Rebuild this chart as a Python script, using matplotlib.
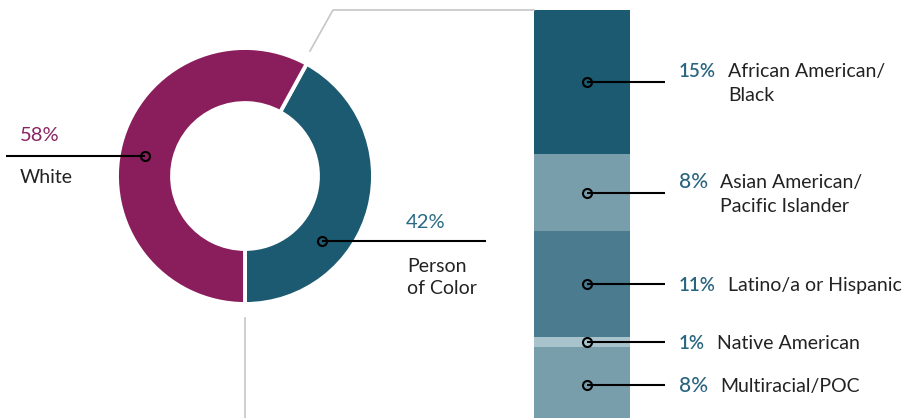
import matplotlib
matplotlib.use('Agg')
import matplotlib.pyplot as plt

plt.rcParams['font.family'] = ['Lato', 'DejaVu Sans']

# main split (donut)
main_labels = ['Person\nof Color', 'White']
main_values = [42, 58]
main_colors = ['#1b5a70', '#8a1e5c']
main_pct_colors = ['#2a6a85', '#8a2462']

# breakdown of "Person of Color" (stacked bar)
sub_labels = ['African American/\nBlack', 'Asian American/\nPacific Islander',
              'Latino/a or Hispanic', 'Native American', 'Multiracial/POC']
sub_values = [15, 8, 11, 1, 8]
sub_colors = ['#1b5a70', '#789dab', '#4a7b8f', '#a9c3cc', '#789dab']

W, H = 906, 418
fig = plt.figure(figsize=(W / 100, H / 100), dpi=100)

# donut: centre (245, 176) px, radius 128 px
cx, cy, r = 245, 176, 128
ax_pie = fig.add_axes([(cx - r) / W, (H - cy - r) / H, 2 * r / W, 2 * r / H])
ax_pie.pie(main_values, colors=main_colors, startangle=-90, counterclock=True,
           radius=1, wedgeprops=dict(width=0.43, edgecolor='white', linewidth=2.8))
ax_pie.set_xlim(-1, 1)
ax_pie.set_ylim(-1, 1)
ax_pie.axis('off')

# stacked bar, top at y=10 px
ax_bar = fig.add_axes([534 / W, -6 / H, 96 / W, 414 / H])
bottom = 0
centers = []
for v, c in zip(sub_values, sub_colors):
    ax_bar.bar(0, v, bottom=bottom, width=1, color=c, linewidth=0)
    centers.append(bottom + v / 2)
    bottom += v
ax_bar.set_xlim(-0.5, 0.5)
ax_bar.set_ylim(sum(sub_values), 0)
ax_bar.axis('off')

# overlay in pixel coordinates for connectors and labels
ax = fig.add_axes([0, 0, 1, 1], zorder=5)
ax.set_xlim(0, W)
ax.set_ylim(H, 0)
ax.axis('off')
ax.patch.set_alpha(0)

grey = '#c6c6c6'
ax.plot([310, 333, 534], [51, 10, 10], color=grey, lw=1.2)
ax.plot([245, 245], [318, H], color=grey, lw=1.2)

def marker_line(x0, x1, y):
    ax.plot([x0, x1], [y, y], color='black', lw=1.5, solid_capstyle='butt', zorder=6)
    ax.plot([x0], [y], marker='o', ms=6.5, mfc='none', mec='black', mew=1.5, zorder=7)

# donut callouts
marker_line(145, 6, 156)
ax.text(20, 141, f'{main_values[1]}%', color=main_pct_colors[1], fontsize=14.5, va='baseline')
ax.text(20, 183, main_labels[1], color='#222222', fontsize=14, va='baseline')

marker_line(322, 486, 241)
ax.text(406, 228, f'{main_values[0]}%', color=main_pct_colors[0], fontsize=14.5, va='baseline')
for i, line in enumerate(main_labels[0].split('\n')):
    ax.text(407, 272 + i * 22, line, color='#222222', fontsize=14, va='baseline')

# bar callouts
fig.canvas.draw()
renderer = fig.canvas.get_renderer()
inv = ax.transData.inverted()
bx = ax_bar.transData.transform((0.05, 0))[0]
mx = inv.transform((bx, 0))[0]
for lab, v, yc in zip(sub_labels, sub_values, centers):
    disp = ax_bar.transData.transform((0.05, yc))
    my = inv.transform(disp)[1]
    marker_line(mx, 665, my)
    lines = lab.split('\n')
    base = my + 7 - 12 * (len(lines) - 1)
    big = v == 8
    t = ax.text(679, base, f'{v}%', color='#2a6580', va='baseline',
                fontsize=15 if big else 13.5, fontweight='medium' if big else 'semibold')
    bb = t.get_window_extent(renderer)
    tx = inv.transform((bb.x1, 0))[0] + 12
    for i, line in enumerate(lines):
        ax.text(tx, base + i * 24, line, color='#222222', fontsize=14, va='baseline')

fig.savefig('out.png', dpi=100)
